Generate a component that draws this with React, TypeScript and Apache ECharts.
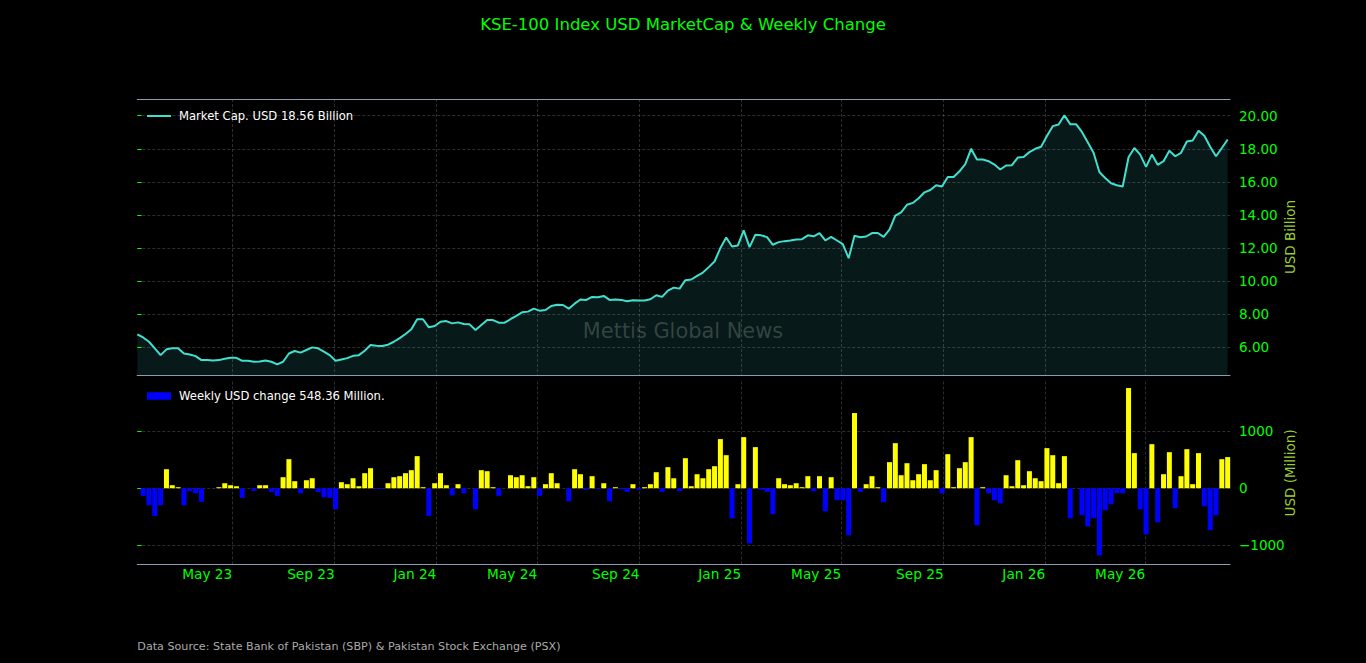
import { useEffect, useRef } from 'react';
import * as echarts from 'echarts';

// ---- data ----
const startDate = '2023-01-07'; // first weekly observation
const marketCapBillion = [
  6.79, 6.60, 6.34, 5.94, 5.53, 5.88, 5.94, 5.94, 5.63, 5.57,
  5.47, 5.23, 5.23, 5.21, 5.23, 5.31, 5.37, 5.37, 5.19, 5.19,
  5.13, 5.15, 5.21, 5.13, 4.97, 5.13, 5.63, 5.78, 5.68, 5.84,
  6.00, 5.94, 5.74, 5.53, 5.19, 5.27, 5.35, 5.49, 5.53, 5.80,
  6.14, 6.10, 6.08, 6.16, 6.34, 6.56, 6.81, 7.09, 7.70, 7.70,
  7.21, 7.29, 7.55, 7.59, 7.45, 7.51, 7.41, 7.39, 7.05, 7.35,
  7.65, 7.65, 7.49, 7.49, 7.70, 7.90, 8.12, 8.16, 8.34, 8.22,
  8.26, 8.50, 8.58, 8.56, 8.34, 8.64, 8.89, 8.87, 9.05, 9.03,
  9.11, 8.87, 8.89, 8.87, 8.79, 8.85, 8.83, 8.83, 8.91, 9.15,
  9.05, 9.43, 9.61, 9.55, 10.06, 10.10, 10.32, 10.52, 10.85, 11.19,
  12.00, 12.64, 12.10, 12.16, 13.07, 12.06, 12.81, 12.77, 12.66, 12.20,
  12.36, 12.42, 12.46, 12.52, 12.54, 12.77, 12.71, 12.91, 12.46, 12.68,
  12.46, 12.24, 11.39, 12.75, 12.66, 12.70, 12.91, 12.91, 12.68, 13.12,
  13.96, 14.16, 14.62, 14.73, 15.01, 15.37, 15.51, 15.80, 15.72, 16.30,
  16.30, 16.64, 17.07, 18.00, 17.35, 17.35, 17.25, 17.05, 16.75, 16.99,
  17.01, 17.47, 17.51, 17.80, 18.00, 18.12, 18.77, 19.37, 19.47, 20.02,
  19.49, 19.49, 19.02, 18.40, 17.76, 16.60, 16.24, 15.92, 15.80, 15.72,
  17.49, 18.05, 17.65, 16.91, 17.65, 17.03, 17.25, 17.88, 17.55, 17.76,
  18.44, 18.50, 19.09, 18.79, 18.12, 17.55, 18.05, 18.56,
];
const weeklyChangeMillion: (number | null)[] = [
  null, -135, -300, -488, -300, 335, 53, 18, -300, -53,
  -88, -241, 0, 0, 18, 88, 53, 35, -170, 0,
  -47, 53, 53, -65, -135, 194, 512, 124, -88, 141,
  176, -65, -159, -170, -371, 106, 71, 176, 35, 265,
  353, -12, -12, 88, 194, 212, 265, 318, 565, 18,
  -488, 88, 265, 53, -124, 71, -88, 0, -371, 318,
  300, 18, -135, 0, 229, 194, 229, 35, 194, -135,
  71, 265, 88, 0, -229, 335, 247, -29, 212, -18,
  88, -229, 18, -18, -65, 71, -29, 18, 71, 282,
  -65, 371, 176, -53, 529, 35, 247, 176, 335, 388,
  865, 582, -529, 71, 900, -971, 724, -29, -65, -459,
  176, 71, 53, 88, 18, 212, -53, 212, -406, 194,
  -212, -212, -829, 1324, -65, 71, 212, 18, -247, 459,
  794, 229, 441, 141, 247, 424, 141, 318, -88, 600,
  18, 353, 459, 900, -653, 18, -88, -212, -265, 229,
  35, 494, 53, 300, 176, 124, 706, 582, 88, 565,
  -529, 0, -476, -671, -529, -1182, -388, -282, -88, -88,
  1765, 618, -371, -812, 776, -600, 247, 635, -353, 212,
  688, 71, 618, -318, -741, -476, 512, 548.36,
];
const monthTickDates = [
  '2023-05-01', '2023-09-01', '2024-01-01', '2024-05-01', '2024-09-01',
  '2025-01-01', '2025-05-01', '2025-09-01', '2026-01-01', '2026-05-01',
];
const monthTickLabels = [
  'May 23', 'Sep 23', 'Jan 24', 'May 24', 'Sep 24',
  'Jan 25', 'May 25', 'Sep 25', 'Jan 26', 'May 26',
];
const capTicks = [6, 8, 10, 12, 14, 16, 18, 20];
const changeTicks = [-1000, 0, 1000];

const titleText = 'KSE-100 Index USD MarketCap & Weekly Change';
const lineName = 'Market Cap. USD 18.56 Billion';
const barName = 'Weekly USD change 548.36 Million.';
const sourceText = 'Data Source: State Bank of Pakistan (SBP) & Pakistan Stock Exchange (PSX)';
const watermarkText = 'Mettis Global News';

// ---- helpers ----
const DAY = 86400000;
const startMs = Date.parse(startDate + 'T00:00:00Z');
const dayOffset = (d: string) => (Date.parse(d + 'T00:00:00Z') - startMs) / DAY;
const weekX = (i: number) => i * 7;

const FONT = 'DejaVu Sans';
const GREEN = '#00ff00';
const SPINE = '#8e9bb0';
const GRIDC = 'rgba(125,125,125,0.45)';

export default function App() {
  const ref = useRef<HTMLDivElement>(null);

  useEffect(() => {
    document.body.style.margin = '0';
    document.body.style.background = '#000';
    if (!ref.current) return;
    const chart = echarts.init(ref.current, undefined, { renderer: 'svg' });

    const tickX = monthTickDates.map(dayOffset);
    const labelFor = (v: number) => {
      const k = tickX.findIndex((t) => Math.abs(t - v) < 1e-6);
      return k >= 0 ? monthTickLabels[k] : '';
    };
    const xMax = 1311.8;

    const lineData = marketCapBillion.map((v, i) => [weekX(i), v]);
    const barData = weeklyChangeMillion.map((v, i) =>
      v === null
        ? [weekX(i), null]
        : {
            value: [weekX(i), v],
            itemStyle: { color: v >= 0 ? '#ffff00' : '#0000ff' },
          }
    );

    const dashed = { show: true, lineStyle: { color: GRIDC, type: [3, 2] as any, width: 0.8 } };

    const option: any = {
      animation: false,
      backgroundColor: '#000',
      textStyle: { fontFamily: FONT },
      title: {
        text: titleText,
        left: 'center',
        top: 11,
        textStyle: { color: GREEN, fontSize: 16.5, fontWeight: 'normal', fontFamily: FONT },
      },
      legend: [
        {
          left: 147,
          top: 109,
          padding: 0,
          itemWidth: 24,
          itemHeight: 2,
          selectedMode: false,
          data: [{ name: lineName, icon: 'rect' }],
          textStyle: { color: '#ffffff', fontSize: 11.6, fontFamily: FONT, lineHeight: 14, padding: [0, 0, 0, 3] },
        },
        {
          left: 147,
          top: 389,
          padding: 0,
          itemWidth: 24,
          itemHeight: 7.5,
          selectedMode: false,
          data: [{ name: barName, icon: 'rect' }],
          textStyle: { color: '#ffffff', fontSize: 11.6, fontFamily: FONT, lineHeight: 14, padding: [0, 0, 0, 3] },
        },
      ],
      grid: [
        { left: 137.3, right: 136, top: 99, height: 276, containLabel: false, outerBoundsMode: 'none' },
        { left: 137.3, right: 136, top: 381.5, height: 182.8, containLabel: false, outerBoundsMode: 'none' },
      ],
      xAxis: [
        {
          type: 'value',
          gridIndex: 0,
          position: 'bottom',
          min: 0,
          max: xMax,
          axisLine: { show: true, lineStyle: { color: SPINE, width: 1.2 } },
          axisTick: { show: false, customValues: tickX },
          axisLabel: { show: false, customValues: tickX },
          splitLine: dashed,
        },
        {
          type: 'value',
          gridIndex: 0,
          position: 'top',
          min: 0,
          max: xMax,
          axisLine: { show: true, onZero: false, lineStyle: { color: SPINE, width: 1.2 } },
          axisTick: { show: false },
          axisLabel: { show: false },
          splitLine: { show: false },
        },
        {
          type: 'value',
          gridIndex: 1,
          position: 'bottom',
          min: 0,
          max: xMax,
          axisLine: { show: true, onZero: false, lineStyle: { color: SPINE, width: 1.2 } },
          axisTick: { show: false, customValues: tickX },
          axisLabel: {
            show: true,
            customValues: tickX,
            align: 'right',
            margin: 2,
            color: GREEN,
            fontSize: 13.7,
            lineHeight: 16,
            fontFamily: FONT,
            formatter: (v: number) => labelFor(v),
          },
          splitLine: dashed,
        },
      ],
      yAxis: [
        {
          type: 'value',
          gridIndex: 0,
          position: 'right',
          min: 4.33,
          max: 21.01,
          name: 'USD Billion',
          nameLocation: 'middle',
          nameRotate: 90,
          nameGap: 53,
          nameMoveOverlap: false,
          nameTextStyle: { color: '#9acd32', fontSize: 13.5, fontFamily: FONT },
          axisLine: { show: false },
          axisTick: { show: true, length: 4.3, customValues: capTicks, lineStyle: { color: GREEN, width: 1 } },
          axisLabel: {
            show: true,
            customValues: capTicks,
            margin: 9,
            color: GREEN,
            fontSize: 13.5,
            fontFamily: FONT,
            formatter: (v: number) => v.toFixed(2),
          },
          splitLine: dashed,
        },
        {
          type: 'value',
          gridIndex: 1,
          position: 'right',
          min: -1340,
          max: 1880,
          name: 'USD (Million)',
          nameLocation: 'middle',
          nameRotate: 90,
          nameGap: 53,
          nameMoveOverlap: false,
          nameTextStyle: { color: '#9acd32', fontSize: 13.5, fontFamily: FONT },
          axisLine: { show: false },
          axisTick: { show: true, length: 4.3, customValues: changeTicks, lineStyle: { color: GREEN, width: 1 } },
          axisLabel: {
            show: true,
            customValues: changeTicks,
            margin: 9,
            color: GREEN,
            fontSize: 13.5,
            fontFamily: FONT,
            formatter: (v: number) => (v < 0 ? '\u2212' + Math.abs(v) : String(v)),
          },
          splitLine: dashed,
        },
      ],
      series: [
        {
          name: lineName,
          type: 'line',
          xAxisIndex: 0,
          yAxisIndex: 0,
          data: lineData,
          showSymbol: false,
          symbol: 'none',
          itemStyle: { color: '#40e0d0' },
          lineStyle: { color: '#40e0d0', width: 2 },
          areaStyle: { color: 'rgba(60,220,215,0.16)', origin: 'start' },
          z: 3,
        },
        {
          name: barName,
          type: 'bar',
          xAxisIndex: 2,
          yAxisIndex: 1,
          data: barData,
          barWidth: 5,
          itemStyle: { color: '#0000ff' },
          z: 3,
        },
      ],
      graphic: [
        {
          type: 'text',
          x: 683,
          y: 331,
          z: 10,
          silent: true,
          style: {
            text: watermarkText,
            fill: 'rgba(128,140,138,0.38)',
            fontSize: 20.9,
            fontFamily: FONT,
            align: 'center',
            verticalAlign: 'middle',
          },
        },
        {
          type: 'text',
          x: 137.3,
          y: 646,
          style: {
            text: sourceText,
            fill: '#aaaaaa',
            fontSize: 11.15,
            fontFamily: FONT,
            align: 'left',
            verticalAlign: 'middle',
          },
        },
      ],
    };

    chart.setOption(option);
    return () => chart.dispose();
  }, []);

  return <div ref={ref} style={{ width: 1366, height: 663, background: '#000' }} />;
}
